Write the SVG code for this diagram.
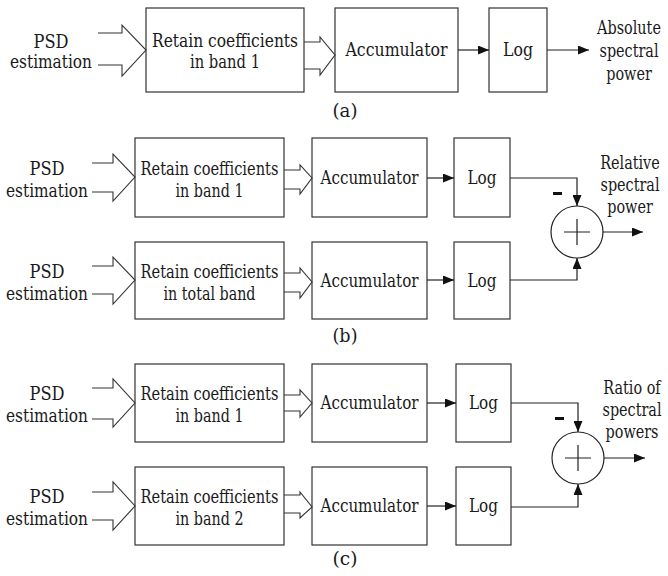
<svg xmlns="http://www.w3.org/2000/svg" width="668" height="576" viewBox="0 0 668 576">
<style>
.box{fill:#fff;stroke:#333;stroke-width:1.2}
.t{font-family:'DejaVu Serif','Liberation Serif',serif;font-size:18px;fill:#1a1a1a;text-anchor:middle}
.ln{fill:none;stroke:#222;stroke-width:1.2}
.ha{fill:none;stroke:#333;stroke-width:1.1}
</style>
<defs>
<marker id="ah" markerWidth="11" markerHeight="9" refX="11" refY="4.5" orient="auto" markerUnits="userSpaceOnUse">
<path d="M0,0 L11,4.5 L0,9 z" fill="#111"/>
</marker>
</defs>
<rect width="668" height="576" fill="#fff"/>

<!-- Panel (a) -->
<g id="a_psd"><text class="t" x="51" y="48" textLength="35" lengthAdjust="spacingAndGlyphs">PSD</text><text class="t" x="51" y="68" textLength="82" lengthAdjust="spacingAndGlyphs">estimation</text></g>
<g id="a_retain"><rect class="box" x="146" y="8" width="158" height="84"/><text class="t" x="225" y="47" textLength="146" lengthAdjust="spacingAndGlyphs">Retain coefficients</text><text class="t" x="225" y="68" textLength="70" lengthAdjust="spacingAndGlyphs">in band 1</text></g>
<g id="a_acc"><rect class="box" x="335" y="8" width="123" height="84"/><text class="t" x="396.5" y="56" textLength="102" lengthAdjust="spacingAndGlyphs">Accumulator</text></g>
<g id="a_log"><rect class="box" x="489" y="8" width="58" height="84"/><text class="t" x="518" y="56" textLength="30" lengthAdjust="spacingAndGlyphs">Log</text></g>
<g id="a_out" transform="translate(629 0) scale(0.8 1)"><text class="t" x="0" y="34">Absolute</text><text class="t" x="0" y="57">spectral</text><text class="t" x="0" y="80">power</text></g>
<text class="t" x="345" y="117" textLength="25" lengthAdjust="spacingAndGlyphs">(a)</text>

<!-- Panel (b) -->
<g id="b_psd1"><text class="t" x="47" y="175" textLength="35" lengthAdjust="spacingAndGlyphs">PSD</text><text class="t" x="47" y="197" textLength="82" lengthAdjust="spacingAndGlyphs">estimation</text></g>
<g id="b_retain1"><rect class="box" x="135" y="138" width="149" height="79"/><text class="t" x="209.5" y="175" textLength="138" lengthAdjust="spacingAndGlyphs">Retain coefficients</text><text class="t" x="209.5" y="197" textLength="68" lengthAdjust="spacingAndGlyphs">in band 1</text></g>
<g id="b_acc1"><rect class="box" x="312" y="138" width="115" height="79"/><text class="t" x="369.5" y="184" textLength="98" lengthAdjust="spacingAndGlyphs">Accumulator</text></g>
<g id="b_log1"><rect class="box" x="454" y="138" width="56" height="79"/><text class="t" x="482" y="184" textLength="29" lengthAdjust="spacingAndGlyphs">Log</text></g>
<g id="b_psd2"><text class="t" x="47" y="278" textLength="35" lengthAdjust="spacingAndGlyphs">PSD</text><text class="t" x="47" y="300" textLength="82" lengthAdjust="spacingAndGlyphs">estimation</text></g>
<g id="b_retain2"><rect class="box" x="135" y="242" width="149" height="77"/><text class="t" x="209.5" y="278" textLength="138" lengthAdjust="spacingAndGlyphs">Retain coefficients</text><text class="t" x="209.5" y="300" textLength="92" lengthAdjust="spacingAndGlyphs">in total band</text></g>
<g id="b_acc2"><rect class="box" x="312" y="242" width="115" height="77"/><text class="t" x="369.5" y="287" textLength="98" lengthAdjust="spacingAndGlyphs">Accumulator</text></g>
<g id="b_log2"><rect class="box" x="454" y="242" width="56" height="77"/><text class="t" x="482" y="287" textLength="29" lengthAdjust="spacingAndGlyphs">Log</text></g>
<g id="b_sum"><circle class="ln" cx="577" cy="232" r="26"/><path class="ln" d="M564,232 H590 M577,219 V245" stroke-width="1.5"/></g>
<g id="b_out" transform="translate(630 0) scale(0.8 1)"><text class="t" x="0" y="169">Relative</text><text class="t" x="0" y="191">spectral</text><text class="t" x="0" y="213">power</text></g>
<rect x="553" y="192" width="9" height="3" fill="#111"/>
<text class="t" x="345" y="342" textLength="25" lengthAdjust="spacingAndGlyphs">(b)</text>

<!-- Panel (c) -->
<g id="c_psd1"><text class="t" x="47" y="400" textLength="35" lengthAdjust="spacingAndGlyphs">PSD</text><text class="t" x="47" y="422" textLength="82" lengthAdjust="spacingAndGlyphs">estimation</text></g>
<g id="c_retain1"><rect class="box" x="135" y="364" width="149" height="78"/><text class="t" x="209.5" y="400" textLength="138" lengthAdjust="spacingAndGlyphs">Retain coefficients</text><text class="t" x="209.5" y="422" textLength="68" lengthAdjust="spacingAndGlyphs">in band 1</text></g>
<g id="c_acc1"><rect class="box" x="312" y="364" width="115" height="78"/><text class="t" x="369.5" y="409" textLength="98" lengthAdjust="spacingAndGlyphs">Accumulator</text></g>
<g id="c_log1"><rect class="box" x="456" y="364" width="55" height="78"/><text class="t" x="483.5" y="409" textLength="29" lengthAdjust="spacingAndGlyphs">Log</text></g>
<g id="c_psd2"><text class="t" x="47" y="503" textLength="35" lengthAdjust="spacingAndGlyphs">PSD</text><text class="t" x="47" y="525" textLength="82" lengthAdjust="spacingAndGlyphs">estimation</text></g>
<g id="c_retain2"><rect class="box" x="135" y="467" width="149" height="78"/><text class="t" x="209.5" y="503" textLength="138" lengthAdjust="spacingAndGlyphs">Retain coefficients</text><text class="t" x="209.5" y="525" textLength="68" lengthAdjust="spacingAndGlyphs">in band 2</text></g>
<g id="c_acc2"><rect class="box" x="312" y="467" width="115" height="78"/><text class="t" x="369.5" y="512" textLength="98" lengthAdjust="spacingAndGlyphs">Accumulator</text></g>
<g id="c_log2"><rect class="box" x="456" y="467" width="55" height="78"/><text class="t" x="483.5" y="512" textLength="29" lengthAdjust="spacingAndGlyphs">Log</text></g>
<g id="c_sum"><circle class="ln" cx="578" cy="458" r="26"/><path class="ln" d="M565,458 H591 M578,445 V471" stroke-width="1.5"/></g>
<g id="c_out" transform="translate(632 0) scale(0.8 1)"><text class="t" x="0" y="394">Ratio of</text><text class="t" x="0" y="416">spectral</text><text class="t" x="0" y="438">powers</text></g>
<rect x="555" y="417" width="9" height="3" fill="#111"/>
<text class="t" x="345" y="565" textLength="25" lengthAdjust="spacingAndGlyphs">(c)</text>

<g id="connectors">
<!-- (a) -->
<path class="ha" d="M98,33 H122 V25 L146,50 L122,76 V65 H98"/>
<path class="ha" d="M304,42 H320 V37 L335,55 L320,75 V69 H304"/>
<line class="ln" x1="458" y1="50" x2="489" y2="50" marker-end="url(#ah)"/>
<line class="ln" x1="547" y1="50" x2="589" y2="50" marker-end="url(#ah)"/>
<!-- (b) -->
<path class="ha" d="M92,163 H113 V154 L135,177 L113,201 V192 H92"/>
<path class="ha" d="M284,170 H300 V165 L312,178 L300,194 V189 H284"/>
<path class="ha" d="M92,266 H113 V257 L135,280 L113,304 V294 H92"/>
<path class="ha" d="M284,273 H300 V268 L312,282 L300,298 V292 H284"/>
<line class="ln" x1="427" y1="178" x2="454" y2="178" marker-end="url(#ah)"/>
<line class="ln" x1="427" y1="280" x2="454" y2="280" marker-end="url(#ah)"/>
<path class="ln" d="M510,178 H577 V206" marker-end="url(#ah)"/>
<path class="ln" d="M510,280 H577 V258" marker-end="url(#ah)"/>
<line class="ln" x1="603" y1="232" x2="643" y2="232" marker-end="url(#ah)"/>
<!-- (c) -->
<path class="ha" d="M92,388 H113 V379 L135,403 L113,427 V419 H92"/>
<path class="ha" d="M284,395 H300 V390 L312,403 L300,417 V411 H284"/>
<path class="ha" d="M92,492 H113 V482 L135,506 L113,530 V520 H92"/>
<path class="ha" d="M284,495 H300 V492 L312,507 L300,518 V513 H284"/>
<line class="ln" x1="427" y1="403" x2="456" y2="403" marker-end="url(#ah)"/>
<line class="ln" x1="427" y1="506" x2="456" y2="506" marker-end="url(#ah)"/>
<path class="ln" d="M511,403 H578 V432" marker-end="url(#ah)"/>
<path class="ln" d="M511,507 H578 V484" marker-end="url(#ah)"/>
<line class="ln" x1="604" y1="458" x2="645" y2="458" marker-end="url(#ah)"/>
</g>
</svg>
